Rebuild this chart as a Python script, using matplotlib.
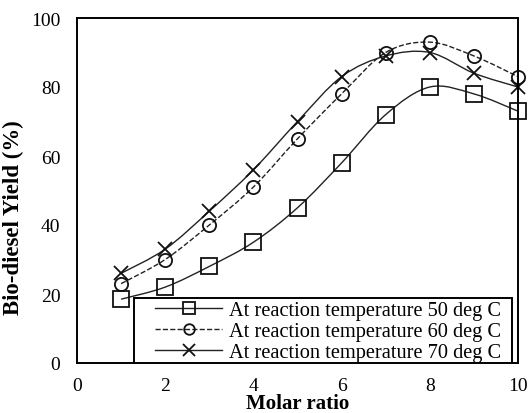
import matplotlib
matplotlib.use("Agg")
import matplotlib.pyplot as plt
import numpy as np
from matplotlib.path import Path
from matplotlib.patches import PathPatch, Rectangle
from matplotlib.lines import Line2D

plt.rcParams['font.family'] = ['Liberation Serif', 'DejaVu Serif']

molar_ratio = [1, 2, 3, 4, 5, 6, 7, 8, 9, 10]
yield_50 = [18.5, 22, 28, 35, 45, 58, 72, 80, 78, 73]
yield_60 = [23, 30, 40, 51, 65, 78, 90, 93, 89, 83]
yield_70 = [26, 33, 44, 56, 70, 83, 89, 90, 84, 80]
labels = ["At reaction temperature 50 deg C",
          "At reaction temperature 60 deg C",
          "At reaction temperature 70 deg C"]
xticks = [0, 2, 4, 6, 8, 10]
yticks = [0, 20, 40, 60, 80, 100]


def smooth_path(x, y, t=1/6):
    x = np.asarray(x, float)
    y = np.asarray(y, float)
    n = len(x)
    verts = [(x[0], y[0])]
    codes = [Path.MOVETO]
    for i in range(n - 1):
        p0 = (x[max(i - 1, 0)], y[max(i - 1, 0)])
        p1 = (x[i], y[i])
        p2 = (x[i + 1], y[i + 1])
        p3 = (x[min(i + 2, n - 1)], y[min(i + 2, n - 1)])
        c1 = (p1[0] + (p2[0] - p0[0]) * t, p1[1] + (p2[1] - p0[1]) * t)
        c2 = (p2[0] - (p3[0] - p1[0]) * t, p2[1] - (p3[1] - p1[1]) * t)
        verts += [c1, c2, p2]
        codes += [Path.CURVE4] * 3
    return Path(verts, codes)


fig = plt.figure(figsize=(5.29, 4.14), dpi=100)
ax = fig.add_axes([77/529, 1 - 364/414, (518-77)/529, (364-19)/414])

series = [(yield_50, 's', '-', 11), (yield_60, 'o', '--', 9.5), (yield_70, 'x', '-', 10)]
handles = []
for (ys, mk, ls, ms), lab in zip(series, labels):
    patch = PathPatch(smooth_path(molar_ratio, ys), facecolor='none',
                      edgecolor='#222222', lw=1.0, linestyle=ls, clip_on=False)
    ax.add_patch(patch)
    ax.plot(molar_ratio, ys, linestyle='none', marker=mk, markersize=ms,
            markerfacecolor='none', markeredgecolor='#111111', markeredgewidth=1.3,
            clip_on=False)
    handles.append(Line2D([], [], color='#222222', lw=1.0, linestyle=ls, marker=mk,
                          markersize=ms * 0.8, markerfacecolor='none',
                          markeredgecolor='#111111', markeredgewidth=1.3))

ax.set_xlim(0, 10)
ax.set_ylim(0, 100)
ax.set_xticks(xticks)
ax.set_yticks(yticks)
ax.tick_params(length=0, labelsize=14)
ax.tick_params(axis='x', pad=10)
ax.tick_params(axis='y', pad=12)
for s in ax.spines.values():
    s.set_linewidth(1.4)

ax.set_xlabel("Molar ratio", fontsize=15, fontweight='bold')
ax.xaxis.set_label_coords(0.5, -0.088)
ax.set_ylabel("Bio-diesel Yield (%)", fontsize=16.5, fontweight='bold')
ax.yaxis.set_label_coords(-0.12, 0.425)

# legend frame
ax.add_patch(Rectangle((0.129, 0.0), 0.986 - 0.129, 0.188, transform=ax.transAxes,
                       facecolor='white', edgecolor='black', lw=1.4, zorder=4))
leg = ax.legend(handles, labels, loc='center left', bbox_to_anchor=(0.177, 0.092),
                fontsize=14.7, frameon=False, handlelength=3.3,
                handletextpad=0.3, borderpad=0, labelspacing=0.08,
                borderaxespad=0)
leg.set_zorder(5)

fig.savefig("out.png", dpi=100)
